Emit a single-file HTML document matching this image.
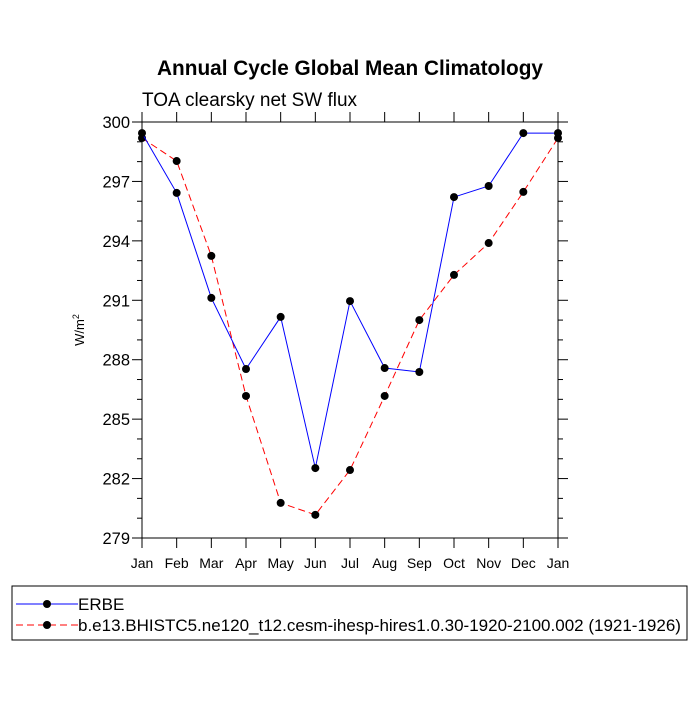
<!DOCTYPE html>
<html><head><meta charset="utf-8"><style>
body{margin:0;background:#fff;font-family:"Liberation Sans",sans-serif}
</style></head><body>
<svg id="c" width="700" height="700" xmlns="http://www.w3.org/2000/svg">
<text x="350" y="75" text-anchor="middle" font-size="20.8" font-weight="bold">Annual Cycle Global Mean Climatology</text>
<text x="142" y="106" font-size="19">TOA clearsky net SW flux</text>
<text transform="translate(84,330) rotate(-90)" text-anchor="middle" font-size="13">W/m<tspan dy="-5" font-size="9">2</tspan></text>
<g id="axes"></g>
<g id="series"></g>
<rect x="12" y="586" width="675" height="54" fill="none" stroke="#000" stroke-width="1"/>
<line x1="16" y1="604" x2="78" y2="604" stroke="#00f"/>
<circle cx="47" cy="604" r="4"/>
<text x="78" y="610" font-size="17">ERBE</text>
<line x1="16" y1="625" x2="78" y2="625" stroke="#f00" stroke-dasharray="7,4"/>
<circle cx="47" cy="625" r="4"/>
<text x="78" y="631" font-size="17">b.e13.BHISTC5.ne120_t12.cesm-ihesp-hires1.0.30-1920-2100.002 (1921-1926)</text>
</svg>
<script>
const months=["Jan","Feb","Mar","Apr","May","Jun","Jul","Aug","Sep","Oct","Nov","Dec","Jan"];
const erbe=[299.44,296.42,291.12,287.53,290.16,282.53,290.96,287.58,287.38,296.21,296.77,299.44,299.44];
const model=[299.19,298.03,293.24,286.17,280.77,280.17,282.43,286.17,290.0,292.28,293.89,296.47,299.19];
const yTicks=[279,282,285,288,291,294,297,300];
const L=142,R=558,T=122,B=538,yMin=279,yMax=300;
const NS="http://www.w3.org/2000/svg";
const xs=i=>L+(R-L)*i/(months.length-1);
const ys=v=>B-(B-T)*(v-yMin)/(yMax-yMin);
function mk(t,a,p){const e=document.createElementNS(NS,t);for(const k in a)e.setAttribute(k,a[k]);p.appendChild(e);return e;}
const ax=document.getElementById('axes');
const fr=mk('rect',{x:L,y:T,width:R-L,height:B-T,fill:'none',stroke:'#000','stroke-width':1},ax);


months.forEach((m,i)=>{const x=xs(i);
 mk('line',{x1:x,y1:B,x2:x,y2:B+10,stroke:'#000'},ax);
 mk('line',{x1:x,y1:T,x2:x,y2:T-10,stroke:'#000'},ax);
 const t=mk('text',{x:x,y:B+30,'text-anchor':'middle','font-size':14},ax);t.textContent=m;
 
 
});
for(let v=yMin;v<=yMax;v++){const y=ys(v);const maj=(v-yMin)%3===0;const len=maj?10:5;
 mk('line',{x1:L,y1:y,x2:L-len,y2:y,stroke:'#000'},ax);
 mk('line',{x1:R,y1:y,x2:R+len,y2:y,stroke:'#000'},ax);}
yTicks.forEach(v=>{const t=mk('text',{x:L-12,y:ys(v)+6,'text-anchor':'end','font-size':16.5},ax);t.textContent=v;
 
 
});
const sg=document.getElementById('series');
function draw(d,col,dash,name){
 const p=mk('polyline',{points:d.map((v,i)=>xs(i)+','+ys(v)).join(' '),fill:'none',stroke:col,'stroke-width':1,'stroke-dasharray':dash},sg);
 
 
 d.forEach((v,i)=>{const c=mk('circle',{cx:xs(i),cy:ys(v),r:4,fill:'#000'},sg);
  
  });
}
draw(model,'#f00','7,4','model');
draw(erbe,'#00f','none','erbe');
</script>
</body></html>
